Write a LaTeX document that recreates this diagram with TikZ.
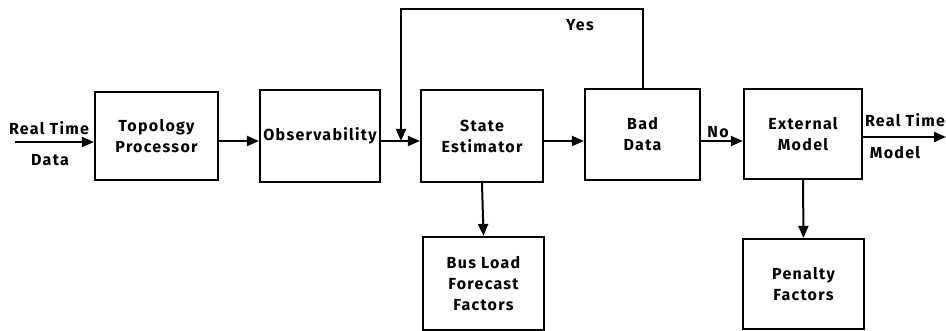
\documentclass[tikz,border=0pt]{standalone}
\usepackage{fontspec}
\setmainfont{Fira Sans}
\usetikzlibrary{arrows.meta}
\tikzset{
  block/.style={draw, line width=2.2pt, align=center, inner sep=0pt,
    font=\bfseries\fontsize{16}{21}\selectfont\addfontfeatures{LetterSpace=8}},
  flow/.style={line width=2pt, -{Triangle[length=12pt,width=10pt]}},
  lbl/.style={inner sep=0pt, font=\bfseries\fontsize{16}{21}\selectfont\addfontfeatures{LetterSpace=8}}
}
\begin{document}
\begin{tikzpicture}[x=1pt,y=-1pt]
    \useasboundingbox (0,0) rectangle (946,331);
    % main chain
    \node[block, minimum width=123pt, minimum height=88pt] (topo) at (156.5,136) {Topology\\Processor};
    \node[block, minimum width=120pt, minimum height=92pt] (obs) at (320,136) {Observability};
    \node[block, minimum width=122pt, minimum height=92pt] (state) at (482,136) {State\\Estimator};
    \node[block, minimum width=115pt, minimum height=91pt] (bad) at (642.5,134.5) {Bad\\Data};
    \node[block, minimum width=118pt, minimum height=90pt] (ext) at (803,134) {External\\Model};
    % outputs below
    \node[block, minimum width=121pt, minimum height=93pt] (bus) at (483.5,283.5) {Bus Load\\Forecast\\Factors};
    \node[block, minimum width=121pt, minimum height=90pt] (pen) at (803.5,284) {Penalty\\Factors};
    % free ends
    \coordinate (in) at (15,142);
    \coordinate (out) at (946,137);
    \coordinate (join) at (401,141);
    % connectors
    \draw[flow] (in) -- (in -| topo.west);
    \draw[flow] (topo.east |- 0,141) -- (obs.west |- 0,141);
    \draw[line width=2pt] (obs.east |- join) -- (join);
    \draw[flow] (join) -- (state.west |- join);
    \draw[flow] (state.east |- 0,141) -- (bad.west |- 0,141);
    \draw[flow] (bad.east |- 0,141) -- (ext.west |- 0,141);
    \draw[flow] (ext.east |- out) -- (out);
    \draw[flow] (state.south) -- (bus.north);
    \draw[flow] (ext.south) -- (pen.north);
    % feedback
    \draw[flow] (bad.north) -- (bad.north |- 0,9) -| (join);
    % labels
    \node[lbl] (rtin) at (49,128) {Real Time};
    \node[lbl] (datain) at (50,160) {Data};
    \node[lbl] (yes) at (580,25) {Yes};
    \node[lbl] (no) at (718,132) {No};
    \node[lbl] (rtout) at (905,120) {Real Time};
    \node[lbl] (modelout) at (895,153) {Model};
\end{tikzpicture}
\end{document}
